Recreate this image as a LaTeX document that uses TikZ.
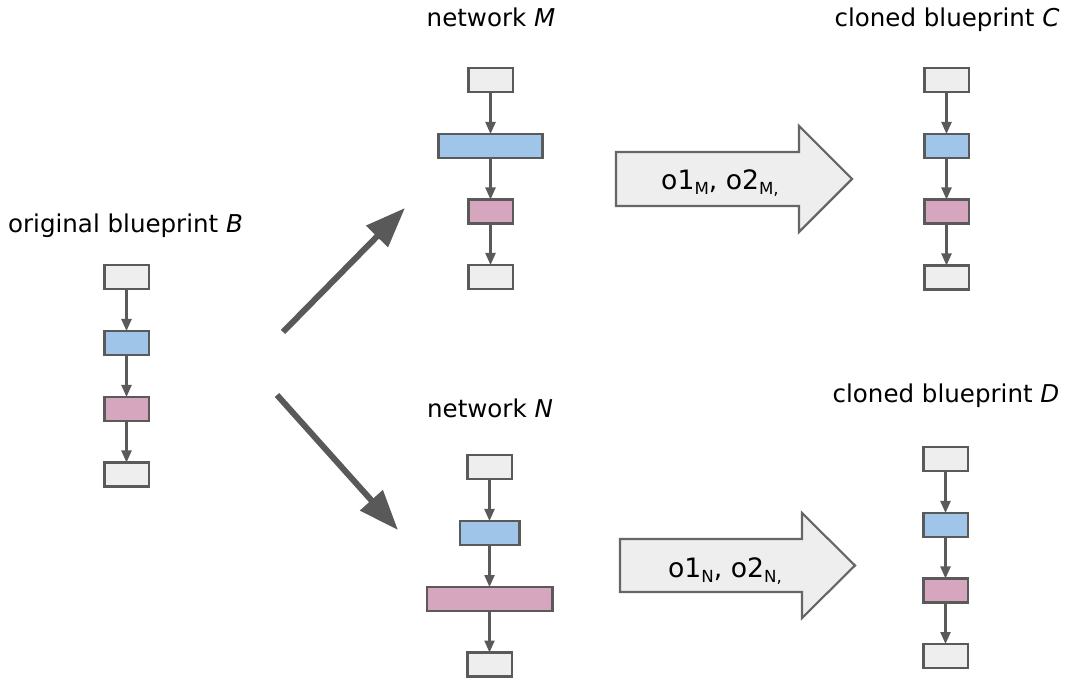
\documentclass[tikz,border=0pt]{standalone}
\usepackage{fontspec}
\setmainfont{DejaVu Sans}
\usetikzlibrary{arrows.meta}
\definecolor{edge}{HTML}{5A5A5A}
\definecolor{boxgray}{HTML}{EEEEEE}
\definecolor{boxblue}{HTML}{9FC5E8}
\definecolor{boxpink}{HTML}{D5A6BD}
\definecolor{bigline}{HTML}{595959}
\definecolor{outline}{HTML}{666666}
% lowered, smaller subscript for the operation labels
\newcommand\lowsub[1]{\raisebox{-3.6pt}{\fontsize{12.5}{12.5}\selectfont #1}}

\begin{document}
\begin{tikzpicture}[x=0.75pt,y=-0.75pt,
  layer/.style={draw=edge, line width=2pt, minimum width=33.5pt,
    minimum height=18pt, inner sep=0pt, outer sep=0pt},
  plain/.style={layer, fill=boxgray},
  blue/.style={layer, fill=boxblue},
  pink/.style={layer, fill=boxpink},
  flow/.style={draw=edge, line width=1.7pt, -{Triangle[length=9pt,width=7.5pt]}},
  lift/.style={draw=bigline, line width=4.5pt, -{Triangle[length=30pt,width=22pt]}},
  caption/.style={anchor=base, font=\fontsize{18.4}{22}\selectfont, inner sep=0pt},
  bigarrow/.style={draw=outline, line width=1.6pt, fill=boxgray, line join=miter},
  oplabel/.style={anchor=base, font=\fontsize{20}{24}\selectfont, inner sep=0pt}]

\useasboundingbox (0,0) rectangle (1071,680);

% ---- original blueprint B ----
\node[caption] (capB) at (125.5,233) {original blueprint \textit{B}};
\node[plain] (b1) at (126.5,277) {};
\node[blue]  (b2) at (126.5,343) {};
\node[pink]  (b3) at (126.5,409) {};
\node[plain] (b4) at (126.5,474.5) {};
\draw[flow] (b1) -- (b2);
\draw[flow] (b2) -- (b3);
\draw[flow] (b3) -- (b4);

% ---- network M ----
\node[caption] (capM) at (491,27) {network \textit{M}};
\node[plain] (m1) at (490.5,80) {};
\node[blue, minimum width=78.2pt] (m2) at (490.5,146) {};
\node[pink]  (m3) at (490.5,211.5) {};
\node[plain] (m4) at (490.5,277) {};
\draw[flow] (m1) -- (m2);
\draw[flow] (m2) -- (m3);
\draw[flow] (m3) -- (m4);

% ---- network N ----
\node[caption] (capN) at (490,418) {network \textit{N}};
\node[plain] (n1) at (489.5,467) {};
\node[blue, minimum width=44.5pt] (n2) at (489.5,533) {};
\node[pink, minimum width=94pt] (n3) at (489.5,599) {};
\node[plain] (n4) at (489.5,664.5) {};
\draw[flow] (n1) -- (n2);
\draw[flow] (n2) -- (n3);
\draw[flow] (n3) -- (n4);

% ---- cloned blueprint C ----
\node[caption] (capC) at (947,27) {cloned blueprint \textit{C}};
\node[plain] (c1) at (946.5,80) {};
\node[blue]  (c2) at (946.5,146) {};
\node[pink]  (c3) at (946.5,211.5) {};
\node[plain] (c4) at (946.5,277.5) {};
\draw[flow] (c1) -- (c2);
\draw[flow] (c2) -- (c3);
\draw[flow] (c3) -- (c4);

% ---- cloned blueprint D ----
\node[caption] (capD) at (946,403) {cloned blueprint \textit{D}};
\node[plain] (d1) at (945.5,459) {};
\node[blue]  (d2) at (945.5,525) {};
\node[pink]  (d3) at (945.5,590.5) {};
\node[plain] (d4) at (945.5,656) {};
\draw[flow] (d1) -- (d2);
\draw[flow] (d2) -- (d3);
\draw[flow] (d3) -- (d4);

% ---- B is trained into M and N ----
\coordinate (upS) at (283,332);
\coordinate (upE) at (405,208);
\coordinate (dnS) at (277,395);
\coordinate (dnE) at (398,530);
\draw[lift] (upS) -- (upE);
\draw[lift] (dnS) -- (dnE);

% ---- operations copied into the clones ----
\draw[bigarrow] (616,152) -- (799,152) -- (799,126) -- (852,179)
  -- (799,232) -- (799,206) -- (616,206) -- cycle;
\node[oplabel] (opM) at (720,189.5) {o1\lowsub{M}, o2\lowsub{M,}};

\draw[bigarrow] (620,539) -- (802,539) -- (802,513) -- (855,565.5)
  -- (802,618) -- (802,592) -- (620,592) -- cycle;
\node[oplabel] (opN) at (725,577.5) {o1\lowsub{N}, o2\lowsub{N,}};

\end{tikzpicture}
\end{document}
